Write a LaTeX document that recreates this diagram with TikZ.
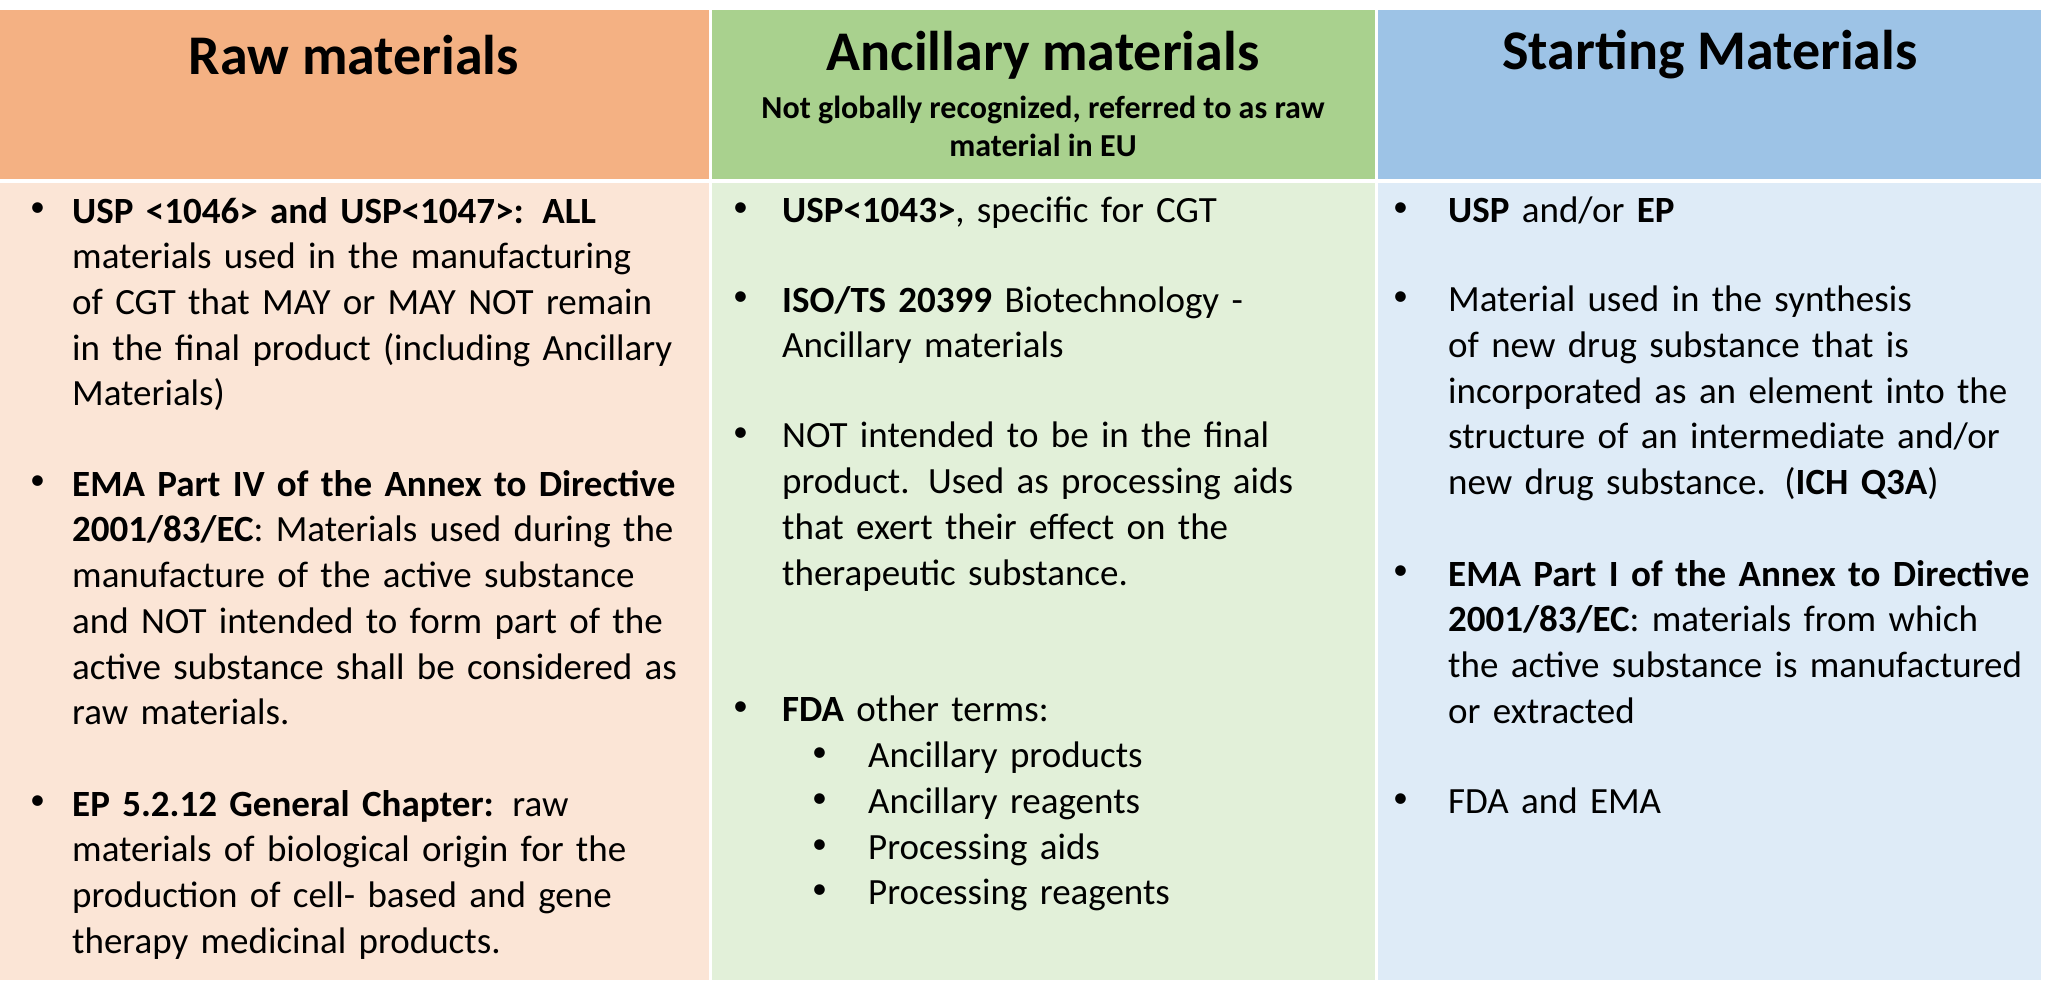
\documentclass[tikz,border=0pt]{standalone}
\usepackage{fontspec}
\setmainfont{Carlito}
\hyphenpenalty=10000 \exhyphenpenalty=10000
\definecolor{oh}{HTML}{F4B183}\definecolor{ob}{HTML}{FBE5D6}
\definecolor{gh}{HTML}{A9D18E}\definecolor{gb}{HTML}{E2F0D9}
\definecolor{bh}{HTML}{9DC3E6}\definecolor{bb}{HTML}{DEEBF7}
\tikzset{
 hd/.style={font=\fontsize{56}{60}\selectfont\bfseries,anchor=center,inner sep=0},
 sub/.style={font=\fontsize{32}{38}\selectfont\bfseries,align=center,anchor=center,inner sep=0},
 para/.style={font=\fontsize{37}{45.7}\selectfont,align=left,anchor=north west,inner sep=0,text width=#1},
 bul/.style={font=\fontsize{30}{45.7}\selectfont,anchor=north west,inner sep=0}
}
\begin{document}
\begin{tikzpicture}[x=1pt,y=-1pt]
\useasboundingbox (0,0) rectangle (2048,997);
\fill[white] (0,0) rectangle (2048,997);
\fill[oh] (0,10) rectangle (709,179); \fill[ob] (0,183) rectangle (709,980);
\fill[gh] (712,10) rectangle (1375,179); \fill[gb] (712,183) rectangle (1375,980);
\fill[bh] (1378,10) rectangle (2041,179); \fill[bb] (1378,183) rectangle (2041,980);
\node[hd] (h1) at (354,55) {Raw materials};
\node[hd] (h2) at (1043,55) {Ancillary materials};
\node[sub] (s2) at (1043,126) {Not globally recognized, referred to as raw\\material in EU};
\node[hd] (h3) at (1710,55) {Starting Materials};
% column 1
\node[bul] (b11) at (30,203) {•};
\node[para=620pt] (p11) at (72,197) {\textbf{USP <1046> and USP<1047>: ALL} materials used in the manufacturing of CGT that MAY or MAY NOT remain in the final product (including Ancillary Materials)};
\node[bul] (b12) at (30,476) {•};
\node[para=620pt] (p12) at (72,470) {\textbf{EMA Part IV of the Annex to Directive 2001/83/EC}: Materials used during the manufacture of the active substance and NOT intended to form part of the active substance shall be considered as raw materials.};
\node[bul] (b13) at (30,796) {•};
\node[para=620pt] (p13) at (72,790) {\textbf{EP 5.2.12 General Chapter:} raw materials of biological origin for the production of cell- based and gene therapy medicinal products.};
% column 2
\node[bul] (b21) at (733,203) {•};
\node[para=580pt] (p21) at (782,197) {\textbf{USP<1043>}, specific for CGT};
\node[bul] (b22) at (733,292) {•};
\node[para=580pt] (p22) at (782,286) {\textbf{ISO/TS 20399} Biotechnology -\\Ancillary materials};
\node[bul] (b23) at (733,428) {•};
\node[para=520pt] (p23) at (782,422) {NOT intended to be in the final product. Used as processing aids that exert their effect on the therapeutic substance.};
\node[bul] (b24) at (733,702) {•};
\node[para=560pt] (p24) at (782,696) {\textbf{FDA} other terms:};
\foreach \t [count=\i] in {Ancillary products,Ancillary reagents,Processing aids,Processing reagents}{
 \node[bul] (sb\i) at (812,702+\i*45.7) {•};
 \node[para=450pt] (st\i) at (868,696+\i*45.7) {\t};
}
% column 3
\node[bul] (b31) at (1393,203) {•};
\node[para=590pt] (p31) at (1448,197) {\textbf{USP} and/or \textbf{EP}};
\node[bul] (b32) at (1393,292) {•};
\node[para=580pt] (p32) at (1448,286) {Material used in the synthesis of new drug substance that is incorporated as an element into the structure of an intermediate and/or new drug substance. (\textbf{ICH Q3A})};
\node[bul] (b33) at (1393,566) {•};
\node[para=590pt] (p33) at (1448,560) {\textbf{EMA Part I of the Annex to Directive 2001/83/EC}: materials from which the active substance is manufactured or extracted};
\node[bul] (b34) at (1393,794) {•};
\node[para=590pt] (p34) at (1448,788) {FDA and EMA};
\end{tikzpicture}
\end{document}
